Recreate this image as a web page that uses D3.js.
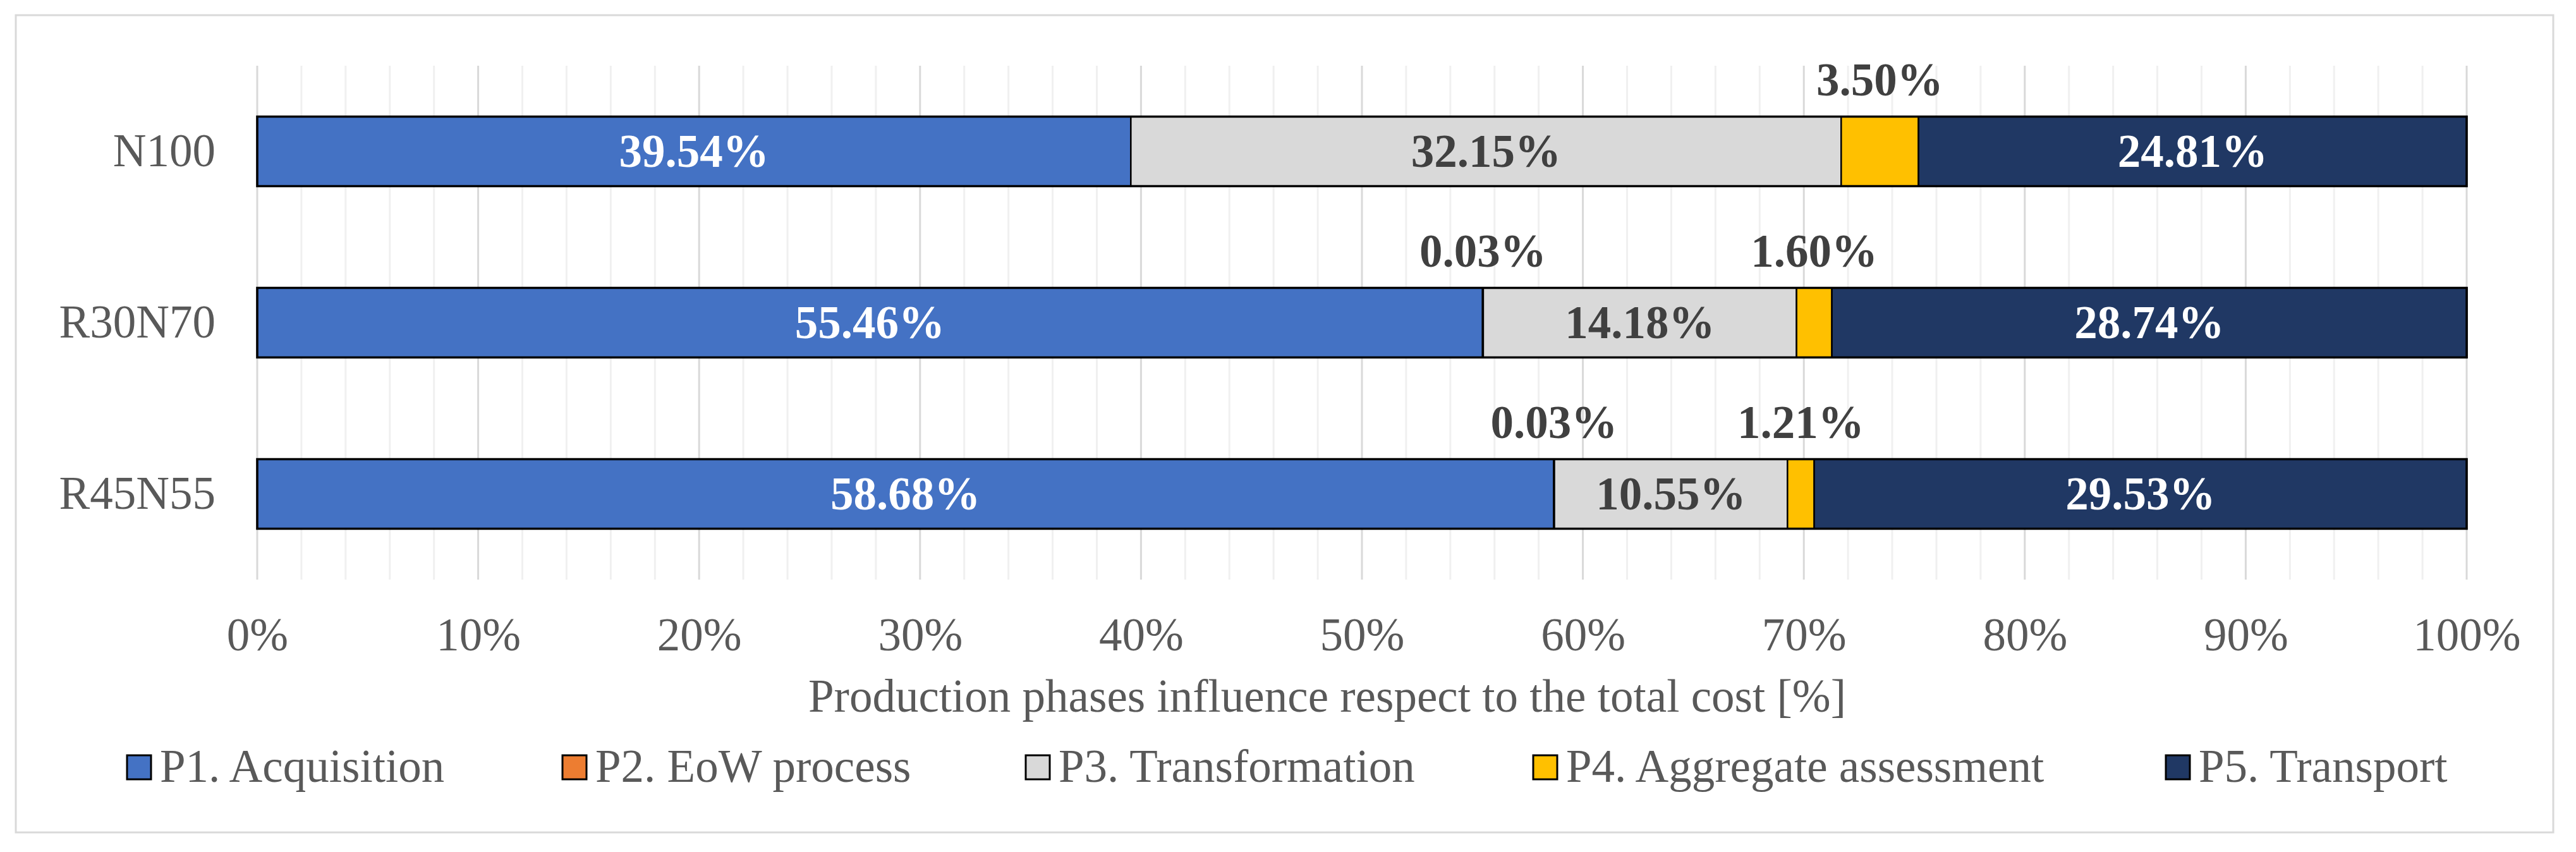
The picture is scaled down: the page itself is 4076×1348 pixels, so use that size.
<!DOCTYPE html>
<html>
<head>
<meta charset="utf-8">
<script src="https://cdn.jsdelivr.net/npm/d3@7"></script>
<style>
  html, body { margin: 0; padding: 0; background: #fff; }
  text { font-family: "Liberation Serif", "Times New Roman", serif; }
</style>
</head>
<body>
<div id="chart"></div>
<script>
// categories and series (percent of total cost)
const mixes = ["N100", "R30N70", "R45N55"];
const phases = ["P1. Acquisition", "P2. EoW process", "P3. Transformation", "P4. Aggregate assessment", "P5. Transport"];
const p1 = [39.54, 55.46, 58.68];
const p2 = [0, 0.03, 0.03];
const p3 = [32.15, 14.18, 10.55];
const p4 = [3.50, 1.60, 1.21];
const p5 = [24.81, 28.74, 29.53];
const xTicks = [0, 10, 20, 30, 40, 50, 60, 70, 80, 90, 100];

const PHASE_COLORS = ["#4472C4", "#ED7D31", "#D9D9D9", "#FFC000", "#203864"];
const LABEL_COLORS = ["#ffffff", "#404040", "#404040", "#404040", "#ffffff"];
const AXIS_TEXT = "#595959";
const FONT_SIZE = 73;

const width = 4076, height = 1348;
const plot = { left: 407, right: 3903, top: 104, bottom: 917 };

const svg = d3.select("#chart")
    .append("svg")
    .attr("width", width)
    .attr("height", height);

// chart border
svg.append("rect")
    .attr("x", 25).attr("y", 24)
    .attr("width", 4040 - 25).attr("height", 1317 - 24)
    .attr("fill", "white")
    .attr("stroke", "#d9d9d9")
    .attr("stroke-width", 3);

const xScale = d3.scaleLinear().domain([0, 100]).range([plot.left, plot.right]);
const yScale = d3.scaleBand()
    .domain(mixes)
    .range([plot.top, plot.bottom])
    .paddingInner(0.594)
    .paddingOuter(0.297);

// gridlines: minor every 2%, major every 10%
const minor = d3.range(0, 101, 2).filter(v => v % 10 !== 0);
svg.append("g").selectAll("line")
    .data(minor)
    .enter().append("line")
    .attr("x1", d => xScale(d)).attr("x2", d => xScale(d))
    .attr("y1", plot.top).attr("y2", plot.bottom)
    .attr("stroke", "#f0f0f0")
    .attr("stroke-width", 3);

svg.append("g").selectAll("line")
    .data(xTicks)
    .enter().append("line")
    .attr("x1", d => xScale(d)).attr("x2", d => xScale(d))
    .attr("y1", plot.top).attr("y2", plot.bottom)
    .attr("stroke", "#d9d9d9")
    .attr("stroke-width", 3);

// x axis labels
const xAxis = svg.append("g")
    .attr("transform", `translate(0,${plot.bottom})`)
    .call(d3.axisBottom(xScale).tickValues(xTicks).tickFormat(d => d + "%").tickSize(0).tickPadding(60));
xAxis.select(".domain").remove();
xAxis.selectAll("text")
    .attr("font-size", FONT_SIZE)
    .attr("font-family", "Liberation Serif, Times New Roman, serif")
    .attr("fill", AXIS_TEXT);

// y axis labels
const yAxis = svg.append("g")
    .attr("transform", `translate(${plot.left},0)`)
    .call(d3.axisLeft(yScale).tickSize(0).tickPadding(66));
yAxis.select(".domain").remove();
yAxis.selectAll("text")
    .attr("font-size", FONT_SIZE)
    .attr("font-family", "Liberation Serif, Times New Roman, serif")
    .attr("fill", AXIS_TEXT);

// stacked data
const rows = mixes.map((m, i) => ({ mix: m, vals: [p1[i], p2[i], p3[i], p4[i], p5[i]] }));
const segs = [];
rows.forEach(r => {
    let acc = 0;
    r.vals.forEach((v, k) => {
        segs.push({ mix: r.mix, k: k, v: v, x0: acc, x1: acc + v });
        acc += v;
    });
});

svg.append("g").selectAll("rect")
    .data(segs.filter(d => d.v > 0))
    .enter().append("rect")
    .attr("x", d => xScale(d.x0))
    .attr("y", d => yScale(d.mix))
    .attr("width", d => xScale(d.x1) - xScale(d.x0))
    .attr("height", yScale.bandwidth())
    .attr("fill", d => PHASE_COLORS[d.k])
    .attr("stroke", "black")
    .attr("stroke-width", 2.5);

// outline top/bottom slightly heavier
svg.append("g").selectAll("rect")
    .data(rows)
    .enter().append("rect")
    .attr("x", xScale(0))
    .attr("y", d => yScale(d.mix))
    .attr("width", xScale(100) - xScale(0))
    .attr("height", yScale.bandwidth())
    .attr("fill", "none")
    .attr("stroke", "black")
    .attr("stroke-width", 3.5);

// data labels: big segments inside, small ones above the bar
const fmt = v => v.toFixed(2) + "%";
svg.append("g").selectAll("text")
    .data(segs.filter(d => (d.k === 1 && d.v > 0) || d.k !== 1))
    .enter().append("text")
    .attr("x", d => xScale((d.x0 + d.x1) / 2))
    .attr("y", d => (d.k === 1 || d.k === 3)
        ? yScale(d.mix) - 33
        : yScale(d.mix) + yScale.bandwidth() / 2 + FONT_SIZE * 0.33)
    .attr("text-anchor", "middle")
    .attr("font-size", FONT_SIZE)
    .attr("font-weight", "bold")
    .attr("fill", d => (d.k === 1 || d.k === 3) ? "#404040" : LABEL_COLORS[d.k])
    .text(d => fmt(d.v));

// axis title
svg.append("text")
    .attr("x", 2100)
    .attr("y", 1126)
    .attr("text-anchor", "middle")
    .attr("font-size", FONT_SIZE)
    .attr("fill", AXIS_TEXT)
    .text("Production phases influence respect to the total cost [%]");

// legend
const legendX = [201, 890, 1623, 2426, 3427];
const legend = svg.append("g").selectAll("g")
    .data(phases)
    .enter().append("g")
    .attr("transform", (d, i) => `translate(${legendX[i]},1195)`);
legend.append("rect")
    .attr("width", 38).attr("height", 38)
    .attr("fill", (d, i) => PHASE_COLORS[i])
    .attr("stroke", "black")
    .attr("stroke-width", 3);
legend.append("text")
    .attr("x", 52)
    .attr("y", 42)
    .attr("font-size", FONT_SIZE)
    .attr("fill", AXIS_TEXT)
    .text(d => d);
</script>
</body>
</html>
